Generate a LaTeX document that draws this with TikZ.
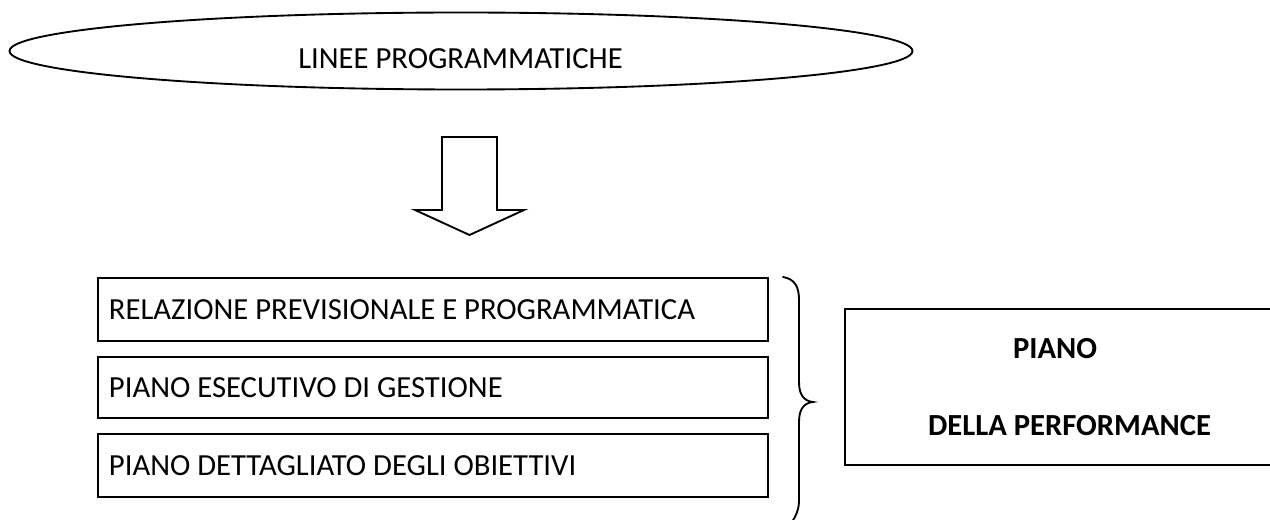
\documentclass[tikz,border=0pt]{standalone}
\usepackage{fontspec}
\setmainfont{Carlito}
\usetikzlibrary{shapes.geometric}
\newcommand{\boxline}[1]{\makebox[486pt][l]{#1}}
\begin{document}
\begin{tikzpicture}[x=0.75pt,y=-0.75pt,line width=1.4pt,
  txt/.style={font=\fontsize{23}{27}\selectfont, inner sep=0pt},
  listbox/.style={draw, anchor=north west, minimum width=502.5pt, inner xsep=8.25pt,
    inner ysep=0pt, font=\fontsize{23}{27}\selectfont},
  bigarrow/.style={draw, line join=miter}]
\clip (0,0) rectangle (1270,520);
% ellipse
\node[draw, ellipse, minimum width=677.25pt, minimum height=57.75pt, inner sep=0pt] (lp) at (461,51) {};
\node[txt, anchor=base] (lpt) at (460.5,69) {LINEE PROGRAMMATICHE};
% block arrow
\coordinate (atop) at (469.5,137);
\draw[bigarrow] (442,137) -- (497,137) -- (497,210) -- (524,210) -- (469.5,235) -- (415,210) -- (442,210) -- cycle;
% list boxes
\node[listbox, minimum height=47.25pt] (b1) at (97,277) {\boxline{RELAZIONE PREVISIONALE E PROGRAMMATICA}};
\node[listbox, minimum height=45.75pt] (b2) at (97,356) {\boxline{PIANO ESECUTIVO DI GESTIONE}};
\node[listbox, minimum height=47.25pt] (b3) at (97,433) {\boxline{PIANO DETTAGLIATO DEGLI OBIETTIVI}};
% brace
\draw[line cap=round] (783,277) .. controls (795,279) and (799,287) .. (799,300) -- (799,382)
  .. controls (799,395) and (804,401) .. (813,402)
  .. controls (804,403) and (799,409) .. (799,422) -- (799,500)
  .. controls (799,510) and (796,516) .. (790,525);
% right box
\node[draw, anchor=north west, minimum width=327pt, minimum height=117pt, inner sep=0pt] (pp) at (844,308) {};
\node[txt, anchor=base, font=\fontsize{23}{27}\selectfont\bfseries] (pp1) at (1055,358) {PIANO};
\node[txt, anchor=base, font=\fontsize{23}{27}\selectfont\bfseries] (pp2) at (1069.5,435) {DELLA PERFORMANCE};
\end{tikzpicture}
\end{document}
